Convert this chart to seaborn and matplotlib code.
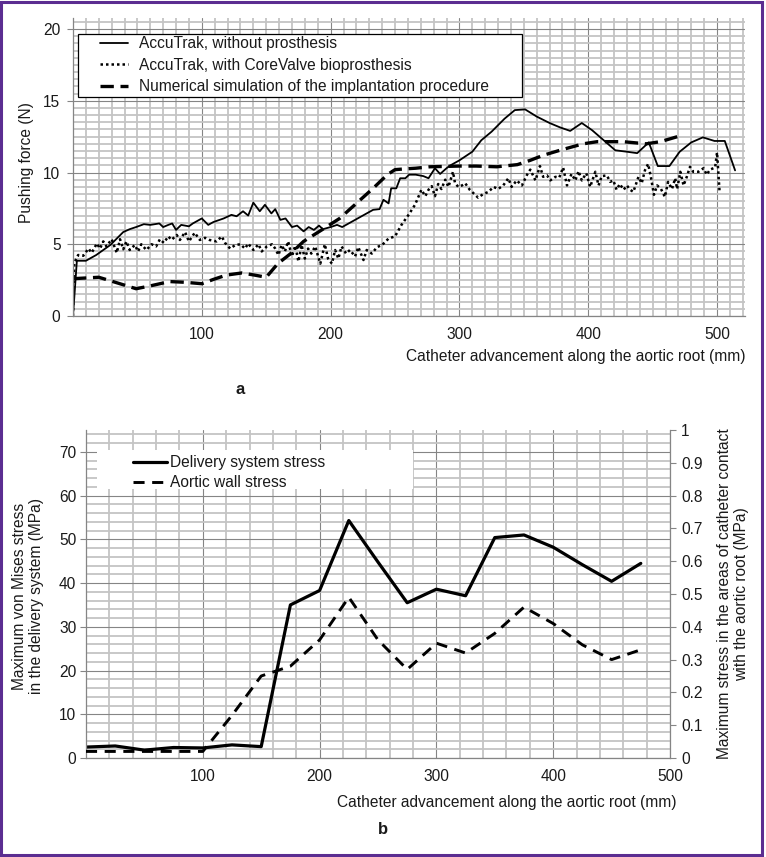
import matplotlib
matplotlib.use("Agg")
import matplotlib.pyplot as plt
import seaborn as sns
import pandas as pd
from matplotlib.patches import Rectangle
from matplotlib.lines import Line2D
from matplotlib.ticker import MultipleLocator, FixedLocator, FuncFormatter

# ---------------- Panel a data ----------------
solid_x = [0, 3, 10, 18, 29, 39, 44, 49, 55, 60, 67, 70, 74, 77, 80, 84, 90, 93, 100, 105,
           109, 117, 123, 127, 132, 136, 140, 145, 149, 154, 157, 161, 165, 170, 174, 179, 183,
           187, 191, 194, 200, 205, 209, 223, 233, 238, 241, 245, 247, 251, 254, 258, 261, 266,
           272, 276, 281, 285, 290, 293, 300, 310, 317, 325, 335, 343, 351, 360, 370, 378, 386,
           395, 403, 412, 421, 430, 438, 447, 454, 463, 471, 480, 489, 498, 506, 514]
solid_y = [0, 3.85, 3.85, 4.25, 4.95, 5.85, 6.05, 6.2, 6.4, 6.35, 6.45, 6.2, 6.35, 6.45, 6.0,
           6.35, 6.25, 6.45, 6.8, 6.35, 6.55, 6.8, 7.05, 6.95, 7.3, 7.0, 7.9, 7.3, 7.75, 7.15,
           7.45, 6.7, 6.8, 6.2, 6.3, 5.9, 6.2, 6.0, 6.3, 6.05, 6.2, 6.35, 6.2, 6.9, 7.4, 7.45,
           8.1, 7.85, 8.9, 8.9, 9.6, 9.6, 9.85, 9.85, 9.75, 9.6, 10.3, 9.9, 10.3, 10.5, 10.85,
           11.45, 12.25, 12.85, 13.75, 14.35, 14.4, 13.9, 13.45, 13.15, 12.9, 13.45, 12.95,
           12.25, 11.55, 11.45, 11.35, 12.1, 10.45, 10.45, 11.45, 12.1, 12.45, 12.2, 12.2, 10.15]

dot_x = [0, 1, 4, 8, 12, 14.5, 18.5, 21, 23.5, 26, 30, 34, 36.5, 39, 41.5, 44, 48, 50.5, 53,
         57, 61, 64.5, 67.5, 70.5, 74, 76.5, 80.5, 83, 87, 90, 94.5, 98.5, 102.5, 106, 111.5,
         115.5, 118, 122, 126, 130, 133.5, 136, 140, 144, 146.5, 150.5, 154.5, 157, 159.5, 162,
         164.5, 167, 170, 172.5, 175, 177.5, 180, 182.5, 185, 188, 192, 195.5, 198, 201, 203.5,
         206, 208.5, 212, 215, 219, 221.5, 225.5, 228, 232, 236, 240, 245, 250, 255, 260.5,
         265.5, 270.5, 273.5, 276, 278.5, 281, 283.5, 286, 289, 291.5, 295, 296.5, 299, 302,
         304.5, 308, 314.5, 318.5, 322.5, 326.5, 330, 334, 338, 340.5, 344.5, 348.5, 352.5,
         355, 359, 362.5, 365, 368, 370.5, 374.5, 377.5, 380.5, 383.5, 387, 390, 392.5, 395,
         398.5, 401.5, 405.5, 408, 410.5, 414.5, 417, 419.5, 422, 424.5, 427.5, 430, 432.5,
         435, 439, 441.5, 444, 446.5, 448.5, 451, 453.5, 456.5, 459.5, 462, 465, 467.5, 469,
         471.5, 474, 476.5, 479, 481.5, 485.5, 489.5, 492, 494.5, 498.5, 500, 502]
dot_y = [0, 3.7, 4.25, 4.2, 4.7, 4.4, 5.05, 4.7, 5.2, 4.85, 5.35, 4.4, 5.35, 4.65, 5.2, 4.6,
         4.95, 4.5, 5.0, 4.6, 5.0, 4.85, 5.35, 5.1, 5.55, 5.3, 5.65, 5.3, 5.85, 5.2, 5.8, 5.3,
         5.45, 5.3, 5.2, 5.55, 5.1, 4.7, 4.95, 5.0, 4.7, 5.05, 4.6, 5.0, 4.5, 4.85, 5.0, 4.7,
         4.25, 4.95, 4.5, 5.2, 4.15, 4.9, 3.8, 4.95, 4.0, 4.7, 4.35, 4.85, 3.65, 5.0, 4.0, 3.65,
         4.6, 4.0, 4.85, 4.35, 4.6, 4.15, 4.8, 3.9, 4.6, 4.35, 4.8, 4.95, 5.4, 5.55, 6.35, 7.05,
         7.75, 8.8, 8.35, 8.8, 9.05, 8.35, 9.2, 8.85, 9.5, 9.0, 10.05, 9.3, 9.0, 9.1, 9.25, 8.8,
         8.25, 8.5, 8.65, 9.0, 8.85, 9.1, 9.6, 9.0, 9.45, 9.1, 9.85, 10.2, 9.45, 10.45, 9.7, 9.8,
         9.45, 9.7, 9.65, 10.35, 9.1, 9.9, 9.45, 10.1, 9.45, 9.95, 9.0, 10.05, 9.1, 9.75, 9.8,
         9.35, 9.45, 8.8, 9.2, 8.8, 9.1, 8.8, 8.65, 9.7, 9.25, 10.15, 10.6, 9.75, 8.45, 9.1,
         8.85, 8.3, 9.35, 8.85, 9.6, 8.85, 10.05, 9.1, 9.7, 10.4, 10.05, 10.05, 10.3, 9.85, 10.2,
         10.35, 11.4, 8.6]

sim_x = [0, 20, 31, 49, 60, 75, 87, 100, 109, 119, 131, 141, 150, 159, 169, 179, 194, 207, 220,
         233, 244, 250, 257, 266, 277, 300, 313, 329, 345, 355, 365, 378, 396, 407, 427, 445,
         456, 473]
sim_y = [2.6, 2.7, 2.4, 1.9, 2.1, 2.4, 2.35, 2.25, 2.55, 2.85, 3.0, 2.85, 2.7, 3.65, 4.35, 5.2,
         6.05, 6.8, 7.85, 8.9, 9.85, 10.2, 10.25, 10.3, 10.4, 10.45, 10.45, 10.4, 10.55, 10.85,
         11.2, 11.55, 12.0, 12.15, 12.15, 12.0, 12.15, 12.6]

labels_a = ["AccuTrak, without prosthesis",
            "AccuTrak, with CoreValve bioprosthesis",
            "Numerical simulation of the implantation procedure"]
xticks_a = [100, 200, 300, 400, 500]
yticks_a = [0, 5, 10, 15, 20]

# ---------------- Panel b data ----------------
pos_b = [0, 25, 50, 75, 100, 125, 150, 175, 200, 225, 250, 275, 300, 325, 350, 375, 400, 425,
         450, 475]
delivery_stress = [2.5, 2.75, 1.8, 2.4, 2.3, 3.0, 2.6, 35.0, 38.3, 54.3, 44.8, 35.5, 38.6, 37.1,
                   50.4, 51.0, 48.2, 44.2, 40.4, 44.5]
aortic_stress = [0.02, 0.02, 0.02, 0.02, 0.02, 0.13, 0.25, 0.28, 0.36, 0.49, 0.36, 0.27, 0.35,
                 0.32, 0.38, 0.46, 0.41, 0.345, 0.30, 0.33]
labels_b = ["Delivery system stress", "Aortic wall stress"]
xticks_b = [100, 200, 300, 400, 500]
yticks_b_left = [0, 10, 20, 30, 40, 50, 60, 70]
yticks_b_right = [0, 0.1, 0.2, 0.3, 0.4, 0.5, 0.6, 0.7, 0.8, 0.9, 1.0]

# ---------------- styling ----------------
sns.set_theme(style="white")
plt.rcParams['font.family'] = ['Liberation Sans', 'DejaVu Sans']
FS = 11.2
plt.rcParams['font.size'] = FS

W, H = 766, 857
fig = plt.figure(figsize=(W / 100, H / 100), dpi=100)
fig.patch.set_facecolor('white')


def fx(px):
    return px / W


def fy(py):
    return 1 - py / H


MINOR_C = '#c4c4c4'
MAJOR_C = '#858585'
SPINE_C = '#858585'
TXT = '#1a1a1a'


def style_axes(ax):
    ax.set_facecolor('white')
    ax.grid(which='minor', color=MINOR_C, lw=1.3)
    ax.grid(which='major', color=MAJOR_C, lw=0.8)
    ax.set_axisbelow(True)
    for s in ['top', 'right']:
        ax.spines[s].set_visible(False)
    for s in ['left', 'bottom']:
        ax.spines[s].set_color(SPINE_C)
        ax.spines[s].set_linewidth(0.9)
    ax.tick_params(which='major', length=4, width=0.8, color=SPINE_C, labelsize=FS,
                   labelcolor=TXT, left=True, bottom=True)
    ax.tick_params(which='minor', length=0)
    ax.set_xlabel('')
    ax.set_ylabel('')


# ---------------- Panel a ----------------
ax1 = fig.add_axes([fx(73), fy(316), fx(745) - fx(73), fy(18) - fy(316)])
df_solid = pd.DataFrame({'x': solid_x, 'y': solid_y})
df_dot = pd.DataFrame({'x': dot_x, 'y': dot_y})
df_sim = pd.DataFrame({'x': sim_x, 'y': sim_y})
sns.lineplot(data=df_solid, x='x', y='y', ax=ax1, color='black', lw=1.3,
             estimator=None, sort=False)
sns.lineplot(data=df_dot, x='x', y='y', ax=ax1, color='black', lw=1.8,
             linestyle=(0, (1, 1.2)), estimator=None, sort=False)
sns.lineplot(data=df_sim, x='x', y='y', ax=ax1, color='black', lw=2.4,
             linestyle=(0, (4, 2)), estimator=None, sort=False)
ax1.set_xlim(0, 521.7)
ax1.set_ylim(0, 20.77)
ax1.xaxis.set_major_locator(FixedLocator(xticks_a))
ax1.xaxis.set_minor_locator(MultipleLocator(10))
ax1.yaxis.set_major_locator(FixedLocator(yticks_a))
ax1.yaxis.set_minor_locator(MultipleLocator(0.5))
style_axes(ax1)
ax1.tick_params(axis='y', which='major', pad=5)
ax1.tick_params(axis='x', which='major', length=0, pad=8)

fig.text(fx(27), fy(163), 'Pushing force (N)', rotation=90, ha='center', va='center',
         fontsize=FS, color=TXT)
fig.text(fx(745), fy(357), 'Catheter advancement along the aortic root (mm)', ha='right',
         va='center', fontsize=FS, color=TXT)
fig.text(fx(240), fy(390), 'a', ha='center', va='center', fontsize=12, fontweight='bold',
         color=TXT)

# legend a
fig.add_artist(Rectangle((fx(78), fy(97)), fx(522) - fx(78), fy(34) - fy(97),
                         transform=fig.transFigure, facecolor='white', edgecolor='black',
                         lw=0.9, zorder=3))
h_a = [Line2D([], [], color='black', lw=1.3),
       Line2D([], [], color='black', lw=1.8, linestyle=(0, (1, 1.2))),
       Line2D([], [], color='black', lw=2.4, linestyle=(0, (4, 2)))]
leg_a = fig.legend(h_a, labels_a, loc='upper left', bbox_to_anchor=(fx(100), fy(36)),
                   frameon=False, borderpad=0, borderaxespad=0, handlelength=1.8,
                   handletextpad=0.7, labelspacing=0.42, fontsize=FS)
leg_a.set_zorder(5)
for t in leg_a.get_texts():
    t.set_color(TXT)

# ---------------- Panel b ----------------
ax2 = fig.add_axes([fx(86), fy(758), fx(670) - fx(86), fy(430) - fy(758)])
df_b = pd.DataFrame({'pos': pos_b, 'delivery': delivery_stress, 'aortic': aortic_stress})
sns.lineplot(data=df_b, x='pos', y='delivery', ax=ax2, color='black', lw=2.3,
             estimator=None, sort=False)
ax2.set_xlim(0, 500)
ax2.set_ylim(0, 75)
ax2.xaxis.set_major_locator(FixedLocator(xticks_b))
ax2.xaxis.set_minor_locator(MultipleLocator(20))
ax2.yaxis.set_major_locator(FixedLocator(yticks_b_left))
ax2.yaxis.set_minor_locator(MultipleLocator(2))
style_axes(ax2)
ax2.tick_params(axis='y', which='major', pad=3)
ax2.tick_params(axis='x', which='major', length=0, pad=8)

ax2r = ax2.twinx()
sns.lineplot(data=df_b, x='pos', y='aortic', ax=ax2r, color='black', lw=2.1,
             linestyle=(0, (3.8, 2.6)), estimator=None, sort=False)
ax2r.set_ylim(0, 1)
ax2r.set_xlim(0, 500)
ax2r.yaxis.set_major_locator(FixedLocator(yticks_b_right))
ax2r.yaxis.set_major_formatter(FuncFormatter(lambda v, p: f"{round(v, 1):g}"))
ax2r.grid(False)
for s in ['top', 'left', 'bottom']:
    ax2r.spines[s].set_visible(False)
ax2r.spines['right'].set_color(SPINE_C)
ax2r.spines['right'].set_linewidth(0.9)
ax2r.tick_params(axis='y', which='major', length=4, width=0.8, color=SPINE_C, pad=4,
                 labelsize=FS, labelcolor=TXT, right=True)
ax2r.set_ylabel('')
ax2r.set_xlabel('')

fig.text(fx(28), fy(596), 'Maximum von Mises stress\nin the delivery system (MPa)', rotation=90,
         ha='center', va='center', fontsize=FS, color=TXT, linespacing=1.15,
         multialignment='center')
fig.text(fx(733), fy(594),
         'Maximum stress in the areas of catheter contact\nwith the aortic root (MPa)',
         rotation=90, ha='center', va='center', fontsize=FS, color=TXT, linespacing=1.15,
         multialignment='center')
fig.text(fx(507), fy(802), 'Catheter advancement along the aortic root (mm)', ha='center',
         va='center', fontsize=FS, color=TXT)
fig.text(fx(383), fy(830), 'b', ha='center', va='center', fontsize=12, fontweight='bold',
         color=TXT)

# legend b
fig.add_artist(Rectangle((fx(97), fy(489)), fx(413) - fx(97), fy(450) - fy(489),
                         transform=fig.transFigure, facecolor='white', edgecolor='none',
                         zorder=3))
h_b = [Line2D([], [], color='black', lw=2.3),
       Line2D([], [], color='black', lw=2.1, linestyle=(0, (3.8, 2.6)))]
leg_b = fig.legend(h_b, labels_b, loc='upper left', bbox_to_anchor=(fx(133), fy(455)),
                   frameon=False, borderpad=0, borderaxespad=0, handlelength=2.2,
                   handletextpad=0.2, labelspacing=0.33, fontsize=FS)
leg_b.set_zorder(5)
for t in leg_b.get_texts():
    t.set_color(TXT)

# purple frame
fig.add_artist(Rectangle((fx(1.5), fy(854.5)), fx(761.5) - fx(1.5), fy(1.5) - fy(854.5),
                         transform=fig.transFigure, facecolor='none', edgecolor='#5b2d91',
                         lw=2.2, zorder=10))

fig.savefig('out.png', dpi=100, facecolor='white')
